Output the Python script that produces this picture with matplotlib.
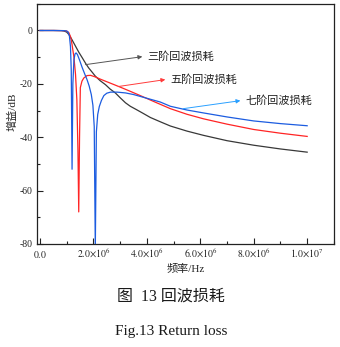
import matplotlib
matplotlib.use("Agg")
import matplotlib.pyplot as plt
from matplotlib.ticker import MultipleLocator, FuncFormatter

# Data (frequency in MHz, gain in dB)
x3 = [0, 0.5, 0.8, 0.9, 1.0, 1.08, 1.2, 1.33, 1.45, 1.58, 1.7, 1.82, 1.95, 2.07,
      2.25, 2.45, 2.62, 2.82, 3.0, 3.2, 3.38, 3.6, 3.85, 4.13, 4.5, 4.88, 5.5,
      6.12, 7.0, 8.0, 9.0, 10.0]
y3 = [0, 0, -0.05, -0.2, -0.6, -1.5, -3.5, -5.9, -8.1, -10.2, -12.2, -14.0, -15.6,
      -17.1, -18.8, -20.3, -21.9, -23.4, -25.2, -27.1, -28.4, -29.6, -31.0, -32.6,
      -34.2, -35.8, -37.7, -39.3, -41.3, -43.0, -44.4, -45.6]

x5 = [0, 0.5, 0.9, 1.0, 1.08, 1.15, 1.2, 1.27, 1.33, 1.38, 1.42, 1.45, 1.48, 1.51,
      1.57, 1.64, 1.76, 1.89, 2.07, 2.25, 2.45, 2.75, 3.07, 3.38, 3.8, 4.3, 4.88,
      5.5, 6.12, 7.0, 8.0, 9.0, 10.0]
y5 = [0, 0, -0.05, -0.2, -0.8, -2.5, -5.3, -10, -16.5, -26, -45, -68, -40, -21.4,
      -19.0, -17.8, -16.9, -16.8, -17.4, -18.2, -19.0, -20.2, -21.5, -22.8, -24.6,
      -26.8, -29.3, -31.4, -33.1, -35.1, -37.1, -38.5, -39.7]

x7 = [0, 0.5, 0.9, 1.0, 1.05, 1.1, 1.14, 1.17, 1.20, 1.23, 1.27, 1.31, 1.35, 1.40,
      1.47, 1.58, 1.67, 1.76, 1.84, 1.92, 1.98, 2.03, 2.07, 2.11, 2.16, 2.22, 2.30,
      2.39, 2.5, 2.64, 2.89, 3.2, 3.5, 4.0, 4.5, 4.88, 5.5, 6.12, 7.0, 8.0, 9.0, 10.0]
y7 = [0, 0, -0.05, -0.2, -0.6, -2, -6, -15, -52, -20, -11, -8.8, -8.4, -9, -10.8,
      -13.9, -16.2, -18.4, -20.8, -24, -28, -36, -82, -38, -31.5, -28.5, -26.2,
      -24.4, -23.5, -23.1, -23.1, -23.4, -24.0, -25.4, -26.8, -28.4, -29.8, -30.9,
      -32.4, -33.9, -34.9, -35.7]

labels = ["三阶回波损耗", "五阶回波损耗", "七阶回波损耗"]
# arrow start / arrow head (MHz, dB)
arrow_from = [(1.70, -12.8), (2.93, -21.0), (5.36, -29.3)]
arrow_to = [(3.83, -9.8), (4.69, -18.4), (7.50, -26.3)]

BLACK = "#383838"
RED = "#ff2424"
BLUE = "#1c5ce0"
arrow_cols = ["#555555", "#ff3a3a", "#2aa0ff"]

SERIF_CJK = ["Liberation Serif", "Noto Sans CJK SC"]
plt.rcParams["mathtext.fontset"] = "stix"
plt.rcParams["font.family"] = SERIF_CJK

fig = plt.figure(figsize=(3.4, 3.47), dpi=100)
ax = fig.add_axes([0.109, 0.297, 0.873, 0.692])

ax.plot([v * 1e6 for v in x3], y3, color=BLACK, lw=0.9)
ax.plot([v * 1e6 for v in x5], y5, color=RED, lw=0.9)
ax.plot([v * 1e6 for v in x7], y7, color=BLUE, lw=0.9)

for lab, (xa, ya), (xb, yb), c in zip(labels, arrow_from, arrow_to, arrow_cols):
    ax.annotate("", xy=(xb * 1e6, yb), xytext=(xa * 1e6, ya),
                arrowprops=dict(arrowstyle="-|>", color=c, lw=0.7,
                                mutation_scale=6, shrinkA=0, shrinkB=0))
    ax.text(xb * 1e6 + 0.18e6, yb, lab, fontsize=8, color="#222222",
            ha="left", va="center", family=SERIF_CJK)

ax.set_xlim(-0.11e6, 1.1e7)
ax.set_ylim(-80, 10)
ax.xaxis.set_major_locator(MultipleLocator(2e6))
ax.xaxis.set_minor_locator(MultipleLocator(1e6))
ax.yaxis.set_major_locator(MultipleLocator(20))
ax.yaxis.set_minor_locator(MultipleLocator(10))


def fmt_x(v, pos):
    if abs(v) < 1:
        return r"$\mathrm{0.0}$"
    e = 6 if v < 9.9e6 else 7
    return r"$\mathrm{%.1f{\times}10^{%d}}$" % (v / 10 ** e, e)


ax.xaxis.set_major_formatter(FuncFormatter(fmt_x))
ax.yaxis.set_major_formatter(FuncFormatter(lambda v, p: "%d" % v))
ax.tick_params(which="both", direction="in", top=False, right=False,
               labelsize=7, colors="#222222")
ax.tick_params(which="major", length=4, width=0.8)
ax.tick_params(which="minor", length=2, width=0.8)
ax.tick_params(axis="y", pad=3)
ax.tick_params(axis="x", pad=10)
for t in ax.xaxis.get_major_ticks():
    t.label1.set_verticalalignment("baseline")
for s in ax.spines.values():
    s.set_linewidth(0.9)
    s.set_color("#222222")

ax.set_xlabel("频率/Hz", fontsize=8, color="#222222")
ax.set_ylabel("增益/dB", fontsize=8, color="#222222")
ax.xaxis.set_label_coords(0.5, -0.083)
ax.yaxis.set_label_coords(-0.067, 0.55)

fig.text(0.503, 1 - 297 / 347, "图  13 回波损耗", fontsize=11.5, ha="center",
         va="center", color="#1a1a1a")
fig.text(0.503, 1 - 332 / 347, "Fig.13 Return loss", fontsize=11, ha="center",
         va="center", color="#1a1a1a")

fig.savefig("out.png", dpi=100)
